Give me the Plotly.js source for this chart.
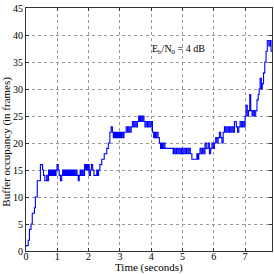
<!DOCTYPE html>
<html>
<head>
<meta charset="utf-8">
<script src="https://cdn.plot.ly/plotly-3.0.1.min.js"></script>
<style>html,body{margin:0;padding:0;background:#fff;}#chart{width:274px;height:274px;}</style>
</head>
<body>
<div id="chart"></div>
<script>
// Step change points (time in s, buffer occupancy in frames)
const times = [0.00,0.07,0.11,0.16,0.20,0.27,0.30,0.36,0.46,0.53,0.56,0.60,0.66,0.68,0.72,0.75,0.78,0.81,0.84,0.87,0.90,0.93,0.96,0.99,
1.03,1.06,1.10,1.14,1.17,1.20,1.23,1.26,1.29,1.32,1.35,1.38,1.41,1.44,1.47,1.50,1.53,1.56,1.60,1.63,1.67,1.70,1.73,1.76,1.80,1.83,1.87,1.90,1.93,1.96,1.99,
2.02,2.06,2.09,2.13,2.17,2.26,2.29,2.32,2.36,2.42,2.50,2.58,2.63,2.68,2.72,2.76,2.79,2.82,2.85,2.88,2.91,2.94,2.97,
3.00,3.03,3.06,3.10,3.13,3.20,3.24,3.28,3.32,3.36,3.40,3.44,3.48,3.52,3.56,3.60,3.63,3.66,3.70,3.73,3.77,3.80,3.84,3.88,3.92,3.96,
4.00,4.04,4.08,4.11,4.14,4.18,4.22,4.26,4.30,4.33,4.36,4.40,4.44,4.70,4.73,4.77,4.81,4.85,4.89,4.93,4.97,
5.01,5.05,5.09,5.13,5.17,5.21,5.25,5.30,5.46,5.49,5.52,5.56,5.60,5.64,5.68,5.72,5.76,5.82,5.86,5.90,5.94,5.98,
6.02,6.06,6.10,6.14,6.18,6.22,6.26,6.30,6.34,6.38,6.42,6.46,6.50,6.54,6.58,6.62,6.66,6.72,6.76,6.80,6.84,6.88,6.92,6.96,
7.00,7.03,7.07,7.11,7.15,7.18,7.22,7.26,7.30,7.34,7.38,7.42,7.45,7.48,7.52,7.55,7.59,7.63,7.67,7.71,7.76,7.80,7.83,7.86];
const frames = [1,2,4,5,7,8,10,13,16,15,14,13,14,13,15,14,15,14,15,14,15,14,15,16,
15,14,13,14,15,14,15,14,15,14,15,14,15,14,15,14,15,14,15,14,13,14,15,14,15,14,16,15,16,15,16,
14,15,16,15,14,15,14,15,16,17,18,19,20,22,23,22,21,22,21,22,21,22,21,
22,21,22,21,22,23,22,23,22,23,24,23,24,23,24,25,24,25,24,25,24,23,24,23,24,23,
24,22,21,22,21,22,21,20,19,20,19,20,19,18,19,18,19,18,19,18,19,
18,19,18,19,18,19,18,17,18,17,18,19,18,19,18,20,19,20,18,19,20,19,
20,21,20,21,22,21,20,22,23,22,23,22,23,22,23,22,24,23,22,23,24,23,24,23,
25,27,25,26,29,26,25,26,25,26,28,29,30,32,30,31,33,35,37,39,38,39,37,37];

const xTicks = [0,1,2,3,4,5,6,7];
const yTicks = [0,5,10,15,20,25,30,35,40,45];
const xTitle = 'Time (seconds)';
const yTitle = 'Buffer occupancy (in frames)';
const annotationText = 'E<sub>b</sub>/N<sub>0</sub> = 4 dB';
const annotationPos = [3.96, 37.3];

const font = {family: 'Liberation Serif, Times New Roman, serif', size: 10, color: '#000'};
const titleFont = {family: 'Liberation Serif, Times New Roman, serif', size: 11, color: '#000'};

const data = [{
  x: times, y: frames, type: 'scatter', mode: 'lines',
  line: {shape: 'hv', color: '#0000ff', width: 1.1}
}];

const layout = {
  width: 274, height: 274,
  margin: {l: 26, r: 2, t: 8, b: 23},
  paper_bgcolor: '#fff', plot_bgcolor: '#fff',
  font: font, showlegend: false,
  xaxis: {
    range: [0, 7.86], tickvals: xTicks,
    showline: true, linecolor: '#333', linewidth: 1, mirror: 'ticks',
    ticks: 'inside', ticklen: 3, tickcolor: '#333',
    showgrid: true, gridcolor: '#999', griddash: 'dot', gridwidth: 1,
    zeroline: false, tickfont: font, ticklabeloverflow: 'allow', automargin: false,
    ticklabelstandoff: -4
  },
  yaxis: {
    range: [0, 45.01], tickvals: yTicks,
    showline: true, linecolor: '#333', linewidth: 1, mirror: 'ticks',
    ticks: 'inside', ticklen: 3, tickcolor: '#333',
    showgrid: true, gridcolor: '#999', griddash: 'dot', gridwidth: 1,
    zeroline: false, tickfont: font, ticklabeloverflow: 'allow', automargin: false
  },
  annotations: [
    {
      x: annotationPos[0], y: annotationPos[1], xref: 'x', yref: 'y',
      text: annotationText, showarrow: false, xanchor: 'left', yanchor: 'middle',
      font: font
    },
    {
      x: 0.5, y: 0, xref: 'paper', yref: 'paper', yshift: -16,
      text: xTitle, showarrow: false, xanchor: 'center', yanchor: 'middle',
      font: titleFont
    },
    {
      x: 0, y: 0.45, xref: 'paper', yref: 'paper', xshift: -19,
      text: yTitle, showarrow: false, textangle: -90, xanchor: 'center', yanchor: 'middle',
      font: titleFont
    }
  ]
};

Plotly.newPlot('chart', data, layout, {staticPlot: true});
</script>
</body>
</html>
